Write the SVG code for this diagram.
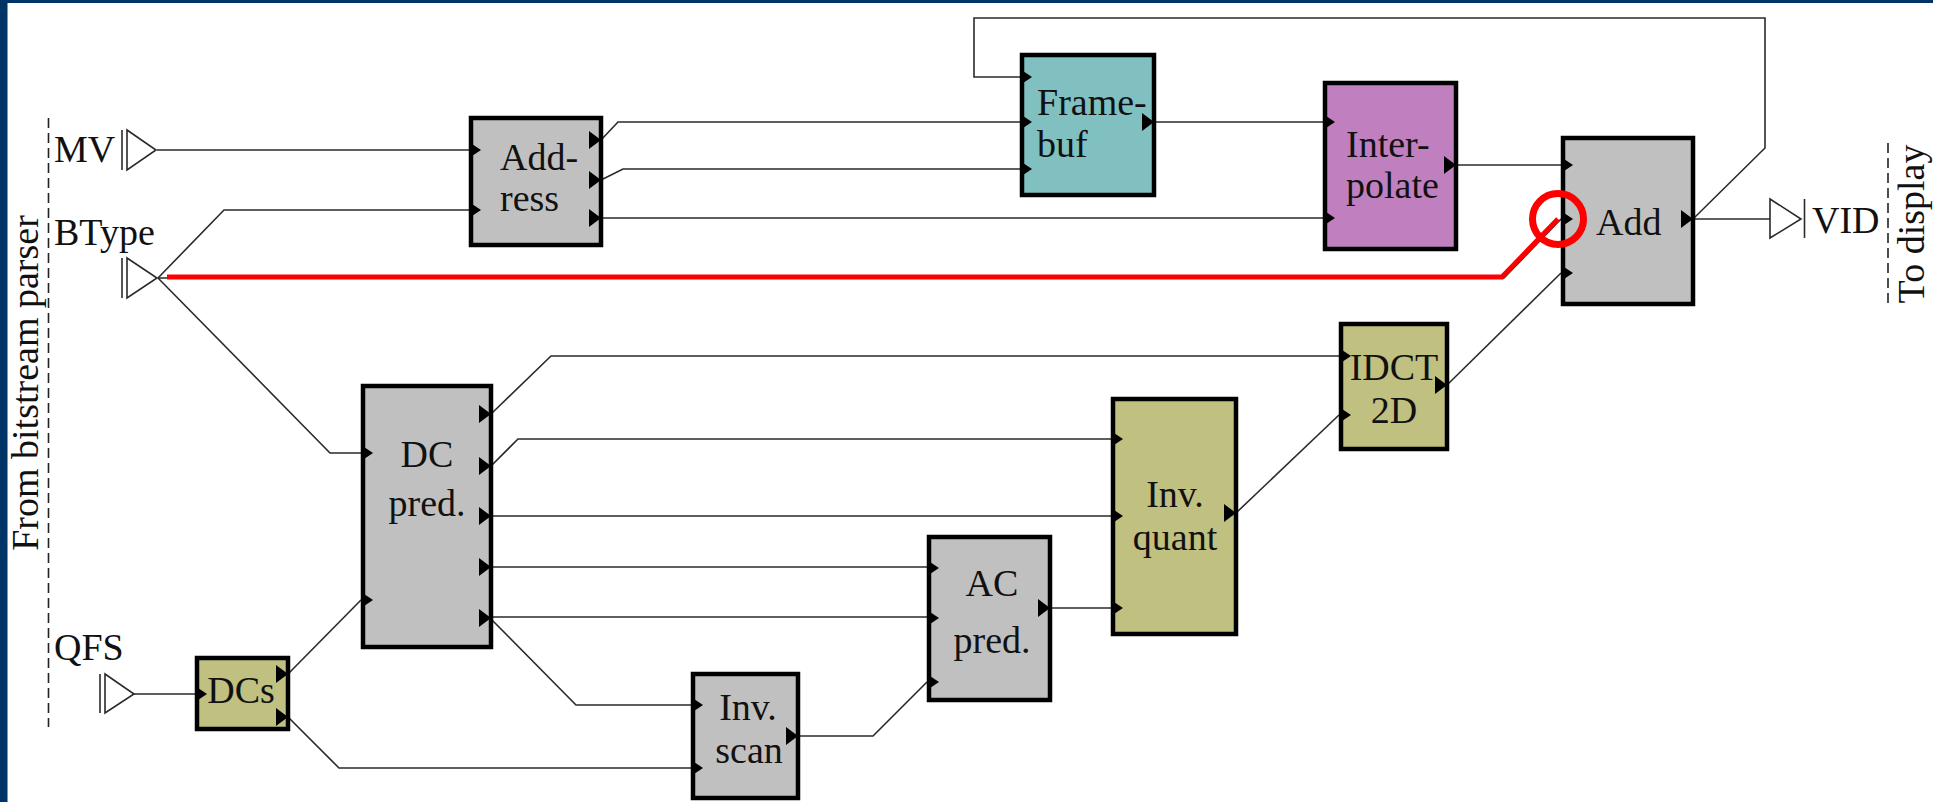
<svg xmlns="http://www.w3.org/2000/svg" xmlns:xlink="http://www.w3.org/1999/xlink" width="1933" height="802" viewBox="0 0 1933 802">
  <style>
    .txt { font-family: "Liberation Serif", "Times New Roman", serif; font-size: 38px; fill: #111; }
    .mid { text-anchor: middle; }
    .box { stroke: #000; stroke-width: 4.5; }
    .gray { fill: #c0c0c0; }
    .teal { fill: #80c0c0; }
    .violet { fill: #c080c0; }
    .olive { fill: #c0c080; }
    .wire { fill: none; stroke: #2a2a2a; stroke-width: 1.6; stroke-linejoin: miter; }
    .term { fill: #fff; stroke: #2a2a2a; stroke-width: 1.6; }
    .bar { stroke: #2a2a2a; stroke-width: 1.6; }
    .dash { stroke: #222; stroke-width: 1.6; stroke-dasharray: 10 5; }
    .pin { fill: #000; }
    .hl { fill: none; stroke: #ff0000; }
  </style>
  <defs>
    <!-- input pin: sits on the left border of a block -->
    <path id="pin-in" d="M0,-8 L12,0 L0,8 Z"/>
    <!-- output pin: sits on the right border of a block -->
    <path id="pin-out" d="M-14,-9 L-2,0 L-14,9 Z"/>
  </defs>

  <!-- page -->
  <rect x="0" y="0" width="1933" height="802" fill="#ffffff"/>
  <rect x="0" y="0" width="1933" height="3" fill="#003366"/>
  <rect x="0" y="0" width="7.5" height="802" fill="#003366"/>

  <!-- boundary markers and side captions -->
  <g id="boundaries">
    <line class="dash" x1="48.5" y1="118" x2="48.5" y2="727"/>
    <line class="dash" x1="1888" y1="143" x2="1888" y2="307"/>
    <text class="txt mid" transform="translate(38,383) rotate(-90)">From bitstream parser</text>
    <text class="txt mid" transform="translate(1924,224) rotate(-90)">To display</text>
  </g>

  <!-- connectors -->
  <g id="connectors">
    <path class="wire" d="M157,150 H469"/>
    <path class="wire" d="M158,278 L224,210 H469"/>
    <path class="wire" d="M158,278 H1504 L1561,219"/>
    <path class="wire" d="M158,278 L330,453 H361"/>
    <path class="wire" d="M601,140 L618,122 H1020"/>
    <path class="wire" d="M601,180 L623,169 H1020"/>
    <path class="wire" d="M601,218 H1323"/>
    <path class="wire" d="M1154,122 H1323"/>
    <path class="wire" d="M1693,219 L1765,148 V18 H974 V77 H1020"/>
    <path class="wire" d="M1456,165 H1561"/>
    <path class="wire" d="M1693,219 H1770"/>
    <path class="wire" d="M1447,385 L1561,273"/>
    <path class="wire" d="M491,414 L551,356 H1339"/>
    <path class="wire" d="M491,466 L518,439 H1111"/>
    <path class="wire" d="M491,516 H1111"/>
    <path class="wire" d="M491,567 H927"/>
    <path class="wire" d="M491,617 H927"/>
    <path class="wire" d="M491,619 L576,705 H691"/>
    <path class="wire" d="M134,694 H195"/>
    <path class="wire" d="M288,674 L361,600"/>
    <path class="wire" d="M288,717 L339,768 H691"/>
    <path class="wire" d="M798,736 H873 L927,682"/>
    <path class="wire" d="M1050,608 H1111"/>
    <path class="wire" d="M1236,513 L1339,415"/>
  </g>

  <!-- external terminals -->
  <g id="term-mv">
    <line class="bar" x1="122" y1="130" x2="122" y2="170"/>
    <polygon class="term" points="127,130 156,150 127,170"/>
    <text class="txt" x="54" y="162">MV</text>
  </g>
  <g id="term-btype">
    <line class="bar" x1="122" y1="258" x2="122" y2="298"/>
    <polygon class="term" points="127,258 157,278 127,298"/>
    <text class="txt" x="54" y="245">BType</text>
  </g>
  <g id="term-qfs">
    <line class="bar" x1="100" y1="674" x2="100" y2="713"/>
    <polygon class="term" points="105,674 134,694 105,713"/>
    <text class="txt" x="54" y="660">QFS</text>
  </g>
  <g id="term-vid">
    <polygon class="term" points="1770,199 1801,219 1770,238"/>
    <line class="bar" x1="1804.5" y1="199" x2="1804.5" y2="238"/>
    <text class="txt" x="1812" y="233">VID</text>
  </g>

  <!-- processing blocks -->
  <g id="address">
    <rect class="box gray" x="471" y="118" width="130" height="127"/>
    <use xlink:href="#pin-in" class="pin" x="469" y="150"/>
    <use xlink:href="#pin-in" class="pin" x="469" y="210"/>
    <use xlink:href="#pin-out" class="pin" x="603" y="140"/>
    <use xlink:href="#pin-out" class="pin" x="603" y="180"/>
    <use xlink:href="#pin-out" class="pin" x="603" y="218"/>
    <text class="txt" x="500" y="170">Add-</text>
    <text class="txt" x="500" y="211">ress</text>
  </g>

  <g id="framebuf">
    <rect class="box teal" x="1022" y="55" width="132" height="140"/>
    <use xlink:href="#pin-in" class="pin" x="1020" y="77"/>
    <use xlink:href="#pin-in" class="pin" x="1020" y="122"/>
    <use xlink:href="#pin-in" class="pin" x="1020" y="169"/>
    <use xlink:href="#pin-out" class="pin" x="1156" y="122"/>
    <text class="txt" x="1037" y="115">Frame-</text>
    <text class="txt" x="1037" y="157">buf</text>
  </g>

  <g id="interpolate">
    <rect class="box violet" x="1325" y="83" width="131" height="166"/>
    <use xlink:href="#pin-in" class="pin" x="1323" y="122"/>
    <use xlink:href="#pin-in" class="pin" x="1323" y="218"/>
    <use xlink:href="#pin-out" class="pin" x="1458" y="165"/>
    <text class="txt" x="1346" y="157">Inter-</text>
    <text class="txt" x="1346" y="198">polate</text>
  </g>

  <g id="add">
    <rect class="box gray" x="1563" y="138" width="130" height="166"/>
    <use xlink:href="#pin-in" class="pin" x="1561" y="165"/>
    <use xlink:href="#pin-in" class="pin" x="1561" y="219"/>
    <use xlink:href="#pin-in" class="pin" x="1561" y="273"/>
    <use xlink:href="#pin-out" class="pin" x="1695" y="219"/>
    <text class="txt" x="1596" y="235">Add</text>
  </g>

  <g id="idct">
    <rect class="box olive" x="1341" y="324" width="106" height="125"/>
    <use xlink:href="#pin-in" class="pin" x="1339" y="356"/>
    <use xlink:href="#pin-in" class="pin" x="1339" y="415"/>
    <use xlink:href="#pin-out" class="pin" x="1449" y="385"/>
    <text class="txt mid" x="1394" y="380">IDCT</text>
    <text class="txt mid" x="1394" y="423">2D</text>
  </g>

  <g id="dcpred">
    <rect class="box gray" x="363" y="386" width="128" height="261"/>
    <use xlink:href="#pin-in" class="pin" x="361" y="453"/>
    <use xlink:href="#pin-in" class="pin" x="361" y="600"/>
    <use xlink:href="#pin-out" class="pin" x="493" y="414"/>
    <use xlink:href="#pin-out" class="pin" x="493" y="466"/>
    <use xlink:href="#pin-out" class="pin" x="493" y="516"/>
    <use xlink:href="#pin-out" class="pin" x="493" y="567"/>
    <use xlink:href="#pin-out" class="pin" x="493" y="618"/>
    <text class="txt mid" x="427" y="467">DC</text>
    <text class="txt mid" x="427" y="516">pred.</text>
  </g>

  <g id="invquant">
    <rect class="box olive" x="1113" y="399" width="123" height="235"/>
    <use xlink:href="#pin-in" class="pin" x="1111" y="439"/>
    <use xlink:href="#pin-in" class="pin" x="1111" y="516"/>
    <use xlink:href="#pin-in" class="pin" x="1111" y="608"/>
    <use xlink:href="#pin-out" class="pin" x="1238" y="513"/>
    <text class="txt mid" x="1175" y="507">Inv.</text>
    <text class="txt mid" x="1175" y="550">quant</text>
  </g>

  <g id="acpred">
    <rect class="box gray" x="929" y="537" width="121" height="163"/>
    <use xlink:href="#pin-in" class="pin" x="927" y="568"/>
    <use xlink:href="#pin-in" class="pin" x="927" y="618"/>
    <use xlink:href="#pin-in" class="pin" x="927" y="682"/>
    <use xlink:href="#pin-out" class="pin" x="1052" y="608"/>
    <text class="txt mid" x="992" y="596">AC</text>
    <text class="txt mid" x="992" y="653">pred.</text>
  </g>

  <g id="invscan">
    <rect class="box gray" x="693" y="674" width="105" height="124"/>
    <use xlink:href="#pin-in" class="pin" x="691" y="705"/>
    <use xlink:href="#pin-in" class="pin" x="691" y="768"/>
    <use xlink:href="#pin-out" class="pin" x="800" y="736"/>
    <text class="txt mid" x="748" y="720">Inv.</text>
    <text class="txt mid" x="749" y="763">scan</text>
  </g>

  <g id="dcs">
    <rect class="box olive" x="197" y="658" width="91" height="71"/>
    <use xlink:href="#pin-in" class="pin" x="195" y="694"/>
    <use xlink:href="#pin-out" class="pin" x="290" y="674"/>
    <use xlink:href="#pin-out" class="pin" x="290" y="717"/>
    <text class="txt mid" x="241" y="703">DCs</text>
  </g>

  <!-- highlighted BType path into the adder -->
  <g id="highlight">
    <path class="hl" d="M167,277 H1502 L1558,219" stroke-width="5"/>
    <circle class="hl" cx="1558" cy="219" r="25.5" stroke-width="7"/>
  </g>
</svg>
